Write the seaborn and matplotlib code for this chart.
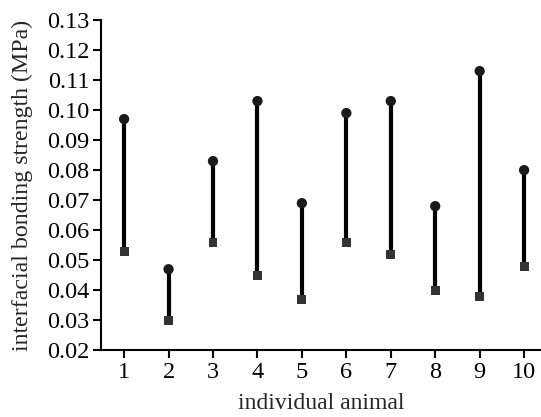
import matplotlib
matplotlib.use("Agg")
import matplotlib.pyplot as plt
import seaborn as sns
import pandas as pd

animals = [1, 2, 3, 4, 5, 6, 7, 8, 9, 10]
high_values = [0.097, 0.047, 0.083, 0.103, 0.069, 0.099, 0.103, 0.068, 0.113, 0.080]
low_values = [0.053, 0.030, 0.056, 0.045, 0.037, 0.056, 0.052, 0.040, 0.038, 0.048]
y_ticks = [0.02, 0.03, 0.04, 0.05, 0.06, 0.07, 0.08, 0.09, 0.10, 0.11, 0.12, 0.13]

sns.set_style("ticks")
plt.rcParams['font.family'] = ['Liberation Serif', 'DejaVu Serif']

df = pd.DataFrame({
    "animal": animals * 2,
    "value": high_values + low_values,
    "kind": ["high"] * len(animals) + ["low"] * len(animals),
})

fig = plt.figure(figsize=(5.41, 4.17), dpi=100)
ax = fig.add_axes([0.1867, 0.160, 0.8133, 0.792])

sns.lineplot(data=df, x="animal", y="value", units="animal", estimator=None,
             color="black", linewidth=3.0, ax=ax, legend=False, sort=False)
sns.scatterplot(data=df[df.kind == "high"], x="animal", y="value", marker="o",
                s=55, color="#1a1a1a", edgecolor="none", ax=ax, zorder=3, legend=False)
sns.scatterplot(data=df[df.kind == "low"], x="animal", y="value", marker="s",
                s=40, color="#333333", edgecolor="none", ax=ax, zorder=3, legend=False)

ax.set_xlim(0.48, 10.38)
ax.set_ylim(0.02, 0.13)
ax.set_xticks(animals)
ax.set_xticklabels([str(a) for a in animals])
ax.set_yticks(y_ticks)
ax.set_yticklabels([f"{t:.2f}" for t in y_ticks])
ax.tick_params(axis="both", labelsize=17.5, width=1.5, length=5.5, pad=3,
               color="black", labelcolor="black")
for s in ["left", "bottom"]:
    ax.spines[s].set_linewidth(1.5)
    ax.spines[s].set_color("black")
sns.despine(ax=ax)
ax.set_xlabel("individual animal", fontsize=17)
ax.set_ylabel("interfacial bonding strength (MPa)", fontsize=17.2)
ax.xaxis.set_label_coords(0.5, -0.13)
ax.yaxis.set_label_coords(-0.155, 0.5)

fig.savefig("out.png", dpi=100)
